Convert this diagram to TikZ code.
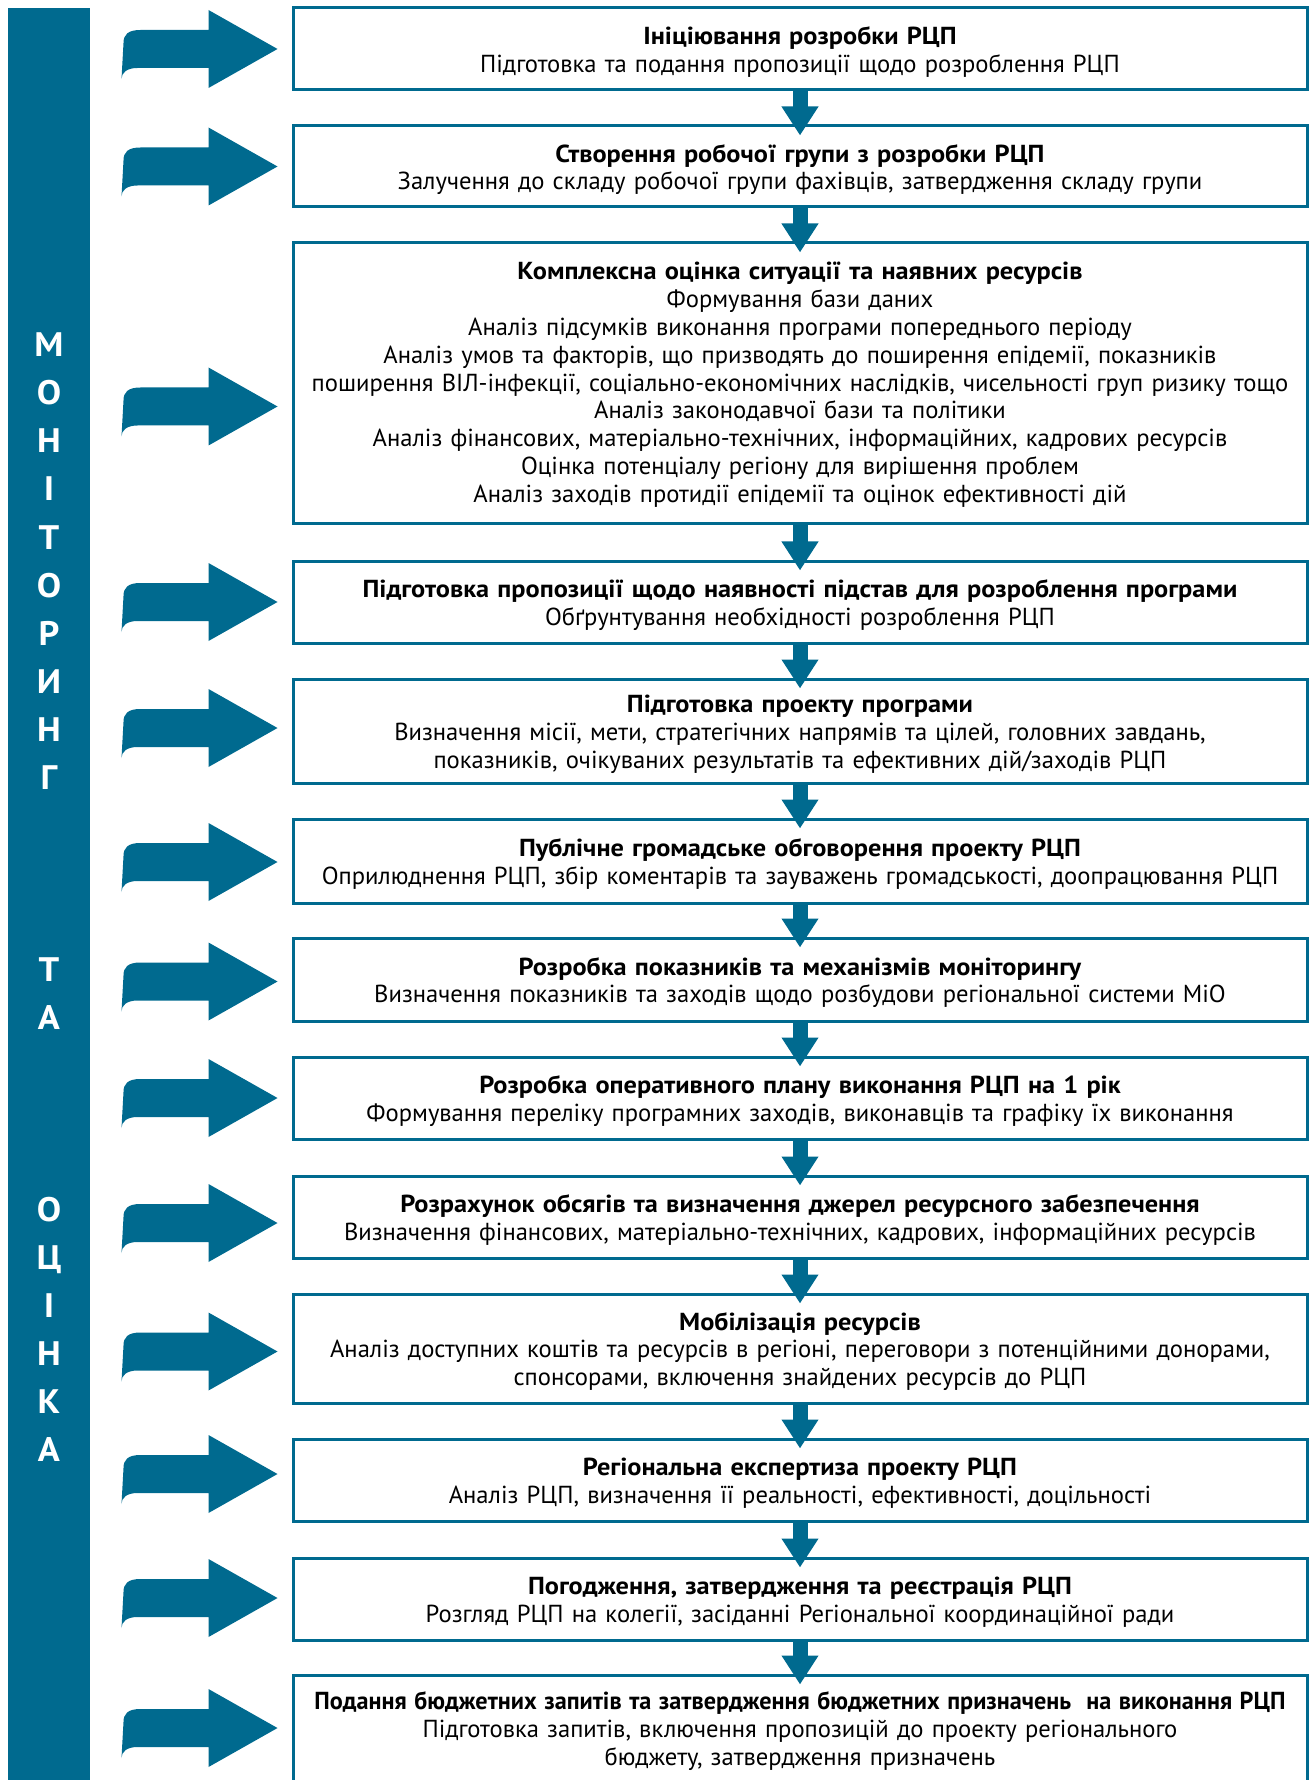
\documentclass[tikz,border=0pt]{standalone}
\usepackage{fontspec}
\setmainfont{PT Sans}[BoldFeatures={FakeStretch=1.07}]
\usetikzlibrary{arrows.meta,calc,positioning}
\definecolor{mainblue}{RGB}{0,106,143}

\tikzset{
  sidearrow/.pic={
    \fill[mainblue] (0,0) -- (-69,-39) -- (-69,-19) -- (-137,-19)
      .. controls (-150,-19) and (-154,-14) .. (-154,-6) -- (-156,30)
      .. controls (-156,24) and (-151,19) .. (-140,19) -- (-69,19) -- (-69,39) -- cycle;
  }
}

\begin{document}
\begin{tikzpicture}[x=0.5pt,y=-0.5pt,
    stage/.style={draw=mainblue, line width=1.5pt, text width=503pt, inner xsep=2pt,
      align=center, font=\fontsize{12.3}{13.9}\selectfont, text height=12pt, minimum height=#1},
    flow/.style={mainblue, line width=7.5pt, -{Triangle[width=17.5pt,length=14.5pt]}},
    barletter/.style={text=white, font=\bfseries\fontsize{17}{17}\selectfont,
      text height=12pt, text depth=0pt, inner sep=0pt}]
    \useasboundingbox (0,0) rectangle (1309,1780);

    % Side bar
    \fill[mainblue] (8,8) rectangle (90,1782);
    \foreach \l/\i in {М/0,О/1,Н/2,І/3,Т/4,О/5,Р/6,И/7,Н/8,Г/9,Т/13,А/14,О/18,Ц/19,І/20,Н/21,К/22,А/23}
        \node[barletter] (l\i) at (49,{345+\i*48}) {\l};

    % Stages
    \node[stage=41pt] (b1) at (800,49) {{\bfseries Ініціювання розробки РЦП}\\
        Підготовка та подання пропозиції щодо розроблення РЦП};
    \node[stage=40.5pt] (b2) at (800,166.5) {{\bfseries Створення робочої групи з розробки РЦП}\\
        Залучення до складу робочої групи фахівців, затвердження складу групи};
    \node[stage=140.5pt, text height=10pt] (b3) at (800,383.5) {{\bfseries Комплексна оцінка ситуації та наявних ресурсів}\\
        Формування бази даних\\
        Аналіз підсумків виконання програми попереднього періоду\\
        Аналіз умов та факторів, що призводять до поширення епідемії, показників\\
        поширення ВІЛ-інфекції, соціально-економічних наслідків, чисельності груп ризику тощо\\
        Аналіз законодавчої бази та політики\\
        Аналіз фінансових, матеріально-технічних, інформаційних, кадрових ресурсів\\
        Оцінка потенціалу регіону для вирішення проблем\\
        Аналіз заходів протидії епідемії та оцінок ефективності дій};
    \node[stage=41pt] (b4) at (800,602) {{\bfseries Підготовка пропозиції щодо наявності підстав для розроблення програми}\\
        Обґрунтування необхідності розроблення РЦП};
    \node[stage=52pt] (b5) at (800,731) {{\bfseries Підготовка проекту програми}\\
        Визначення місії, мети, стратегічних напрямів та цілей, головних завдань,\\
        показників, очікуваних результатів та ефективних дій/заходів РЦП};
    \node[stage=42pt] (b6) at (800,861) {{\bfseries Публічне громадське обговорення проекту РЦП}\\
        Оприлюднення РЦП, збір коментарів та зауважень громадськості, доопрацювання РЦП};
    \node[stage=41.5pt] (b7) at (800,979.5) {{\bfseries Розробка показників та механізмів моніторингу}\\
        Визначення показників та заходів щодо розбудови регіональної системи МіО};
    \node[stage=41pt] (b8) at (800,1098) {{\bfseries Розробка оперативного плану виконання РЦП на 1 рік}\\
        Формування переліку програмних заходів, виконавців та графіку їх виконання};
    \node[stage=41pt] (b9) at (800,1217) {{\bfseries Розрахунок обсягів та визначення джерел ресурсного забезпечення}\\
        Визначення фінансових, матеріально-технічних, кадрових, інформаційних ресурсів};
    \node[stage=54.5pt] (b10) at (800,1348.5) {{\bfseries Мобілізація ресурсів}\\
        Аналіз доступних коштів та ресурсів в регіоні, переговори з потенційними донорами,\\
        спонсорами, включення знайдених ресурсів до РЦП};
    \node[stage=41pt] (b11) at (800,1480) {{\bfseries Регіональна експертиза проекту РЦП}\\
        Аналіз РЦП, визначення її реальності, ефективності, доцільності};
    \node[stage=41pt] (b12) at (800,1599) {{\bfseries Погодження, затвердження та реєстрація РЦП}\\
        Розгляд РЦП на колегії, засіданні Регіональної координаційної ради};
    % condensed title, as printed
    \node[stage=53pt] (b13) at (800,1728) {\makebox[\linewidth]{\scalebox{0.92}[1]{\bfseries Подання бюджетних запитів та затвердження бюджетних призначень \ на виконання РЦП}}\\
        Підготовка запитів, включення пропозицій до проекту регіонального\\
        бюджету, затвердження призначень};

    % Down arrows
    \foreach \a/\b in {b1/b2,b2/b3,b3/b4,b4/b5,b5/b6,b6/b7,b7/b8,b8/b9,b9/b10,b10/b11,b11/b12,b12/b13}
        \draw[flow] (\a.south) -- ($(\b.north)+(0,11)$);

    % Arrows from the bar
    \foreach \b/\dy in {b1/0,b2/0,b3/23,b4/0,b5/-3,b6/1,b7/2,b8/0,b9/6,b10/3,b11/-6,b12/-1,b13/0}
        \pic at ($(\b.west)+(-14,\dy)$) {sidearrow};
\end{tikzpicture}
\end{document}
